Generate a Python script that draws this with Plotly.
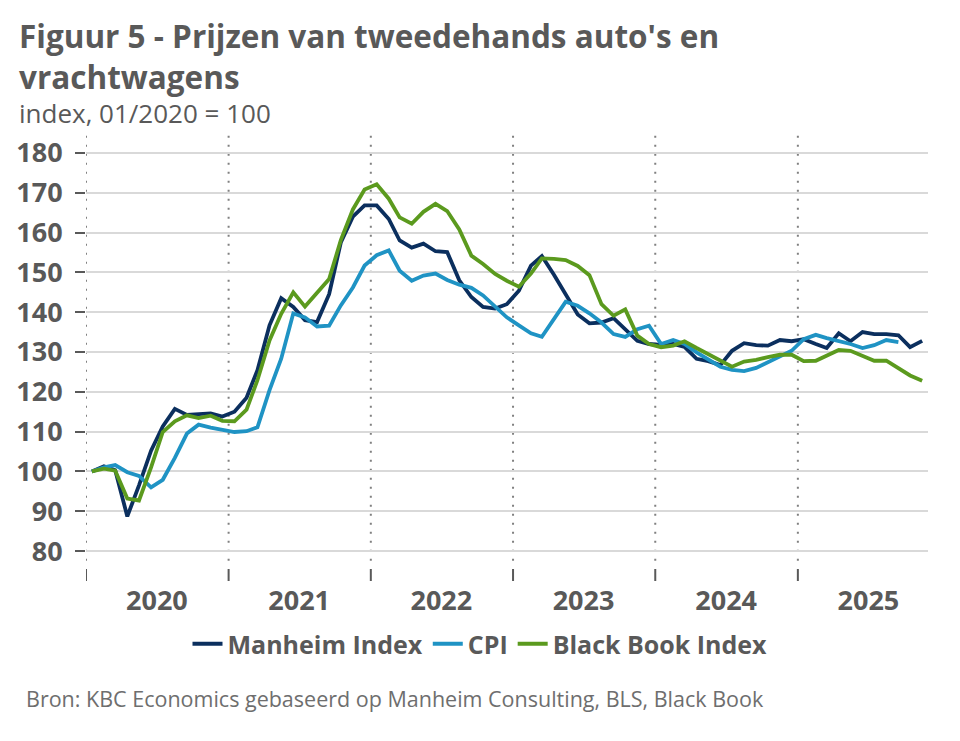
import pandas as pd
import plotly.graph_objects as go

# ---- data (index, 01/2020 = 100), monthly from 2020-01 ----
months = [d.strftime("%Y-%m") for d in pd.date_range("2020-01-01", periods=71, freq="MS")]

manheim = [100, 101.3, 100.3, 88.7, 96.5, 105.2, 111.3, 115.7, 114.2, 114.4, 114.6, 113.8,
           115, 118.5, 125.4, 136.7, 143.5, 141.3, 138, 137.5, 144.5, 157.5, 164, 166.8,
           166.8, 163.4, 158, 156.2, 157.2, 155.3, 155.1, 148, 143.8, 141.3, 140.9, 142,
           145.4, 151.7, 154.1, 149.4, 144.6, 139.4, 137.2, 137.4, 138.5, 135.8, 132.8, 132,
           131.8, 132, 131.3, 128.3, 127.7, 126.7, 130.3, 132.2, 131.7, 131.6, 133, 132.7,
           133.2, 132, 131, 134.7, 132.7, 135, 134.5, 134.5, 134.2, 131.2, 132.8]

cpi = [100, 101, 101.6, 99.8, 98.9, 96, 97.9, 103.4, 109.5, 111.75, 111, 110.4,
       109.9, 110.1, 111.1, 120.4, 128.3, 139.7, 138.7, 136.4, 136.6, 141.7, 146.2, 151.7,
       154.3, 155.5, 150.4, 147.9, 149.2, 149.7, 148.1, 146.9, 146.1, 144.2, 141.3, 138.7,
       136.7, 134.7, 133.8, 138.4, 142.6, 141.6, 139.7, 137.4, 134.5, 133.8, 135.7, 136.6,
       132, 133, 132, 129.9, 128.2, 126.3, 125.5, 125.2, 126, 127.4, 129.1, 130.3,
       133.2, 134.3, 133.5, 132.8, 132, 131, 131.7, 133, 132.5]

black_book = [100, 100.7, 100.2, 93.2, 92.7, 101, 109.9, 112.6, 114.1, 113.4, 114, 112.7,
              112.6, 115.5, 122.9, 132.9, 139.6, 145, 141.4, 145, 148.3, 158.1, 165.8, 170.8,
              172.1, 168.5, 163.8, 162.2, 165.2, 167.2, 165.4, 160.8, 154.2, 152.1, 149.6, 147.9,
              146.4, 149.7, 153.5, 153.4, 153.1, 151.6, 149.3, 142, 139.1, 140.7, 134.1, 132,
              131.2, 131.6, 132.7, 131, 129.5, 127.9, 126.3, 127.6, 128, 128.7, 129.3, 129.3,
              127.7, 127.8, 129.2, 130.5, 130.3, 129.1, 127.8, 127.8, 126, 124.1, 122.8]

years = ["2020", "2021", "2022", "2023", "2024", "2025"]
y_ticks = [80, 90, 100, 110, 120, 130, 140, 150, 160, 170, 180]

series = [("Manheim Index", manheim, "#0b2f5e"),
          ("CPI", cpi, "#1f93c4"),
          ("Black Book Index", black_book, "#5b9a1e")]

GREY = "#595959"
FONT = "Open Sans"

# plot area in figure pixels
L, R, T, B = 78, 40, 125, 186
PW, PH = 960 - L - R, 741 - T - B


def px_x(x):
    return (x - L) / PW


def px_y(y):
    return (741 - B - y) / PH


# mid-month positions
x_mid = [pd.Timestamp(m + "-01") + pd.Timedelta(days=15) for m in months]

fig = go.Figure()
for name, vals, col in series:
    fig.add_trace(go.Scatter(x=x_mid[:len(vals)], y=vals, mode="lines", name=name,
                             line=dict(color=col, width=3.8)))

# year boundaries: dotted lines and small tick marks below the plot
for yr in years:
    xb = f"{yr}-01-01"
    fig.add_shape(type="line", xref="x", yref="paper", x0=xb, x1=xb, y0=0.005, y1=1,
                  line=dict(color="#808080", width=2, dash="2px,7px"), layer="below")
    fig.add_shape(type="line", xref="x", yref="paper", x0=xb, x1=xb,
                  y0=px_y(561), y1=px_y(573),
                  line=dict(color=GREY, width=2))

fig.update_layout(
    width=960, height=741,
    paper_bgcolor="white", plot_bgcolor="white",
    margin=dict(l=L, r=R, t=T, b=B),
    font=dict(family=FONT, color=GREY),
    showlegend=True,
    legend=dict(orientation="h", xref="paper", x=px_x(472), xanchor="center",
                yref="paper", y=px_y(636), yanchor="middle",
                font=dict(family=FONT, size=25, color=GREY, weight="bold"),
                itemwidth=30, tracegroupgap=0),
    annotations=[
        dict(text="<b>Figuur 5 - Prijzen van tweedehands auto's en<br>vrachtwagens</b>",
             xref="paper", yref="paper", align="left",
             x=px_x(9), y=px_y(48), xanchor="left", yanchor="middle",
             showarrow=False, font=dict(family=FONT, size=31.5, color=GREY)),
        dict(text="index, 01/2020 = 100", xref="paper", yref="paper",
             x=px_x(9), y=px_y(105), xanchor="left", yanchor="middle",
             showarrow=False, font=dict(family=FONT, size=26, color=GREY)),
        dict(text="Bron: KBC Economics gebaseerd op Manheim Consulting, BLS, Black Book",
             xref="paper", yref="paper", x=px_x(16), y=px_y(690),
             xanchor="left", yanchor="middle", showarrow=False,
             font=dict(family=FONT, size=21.5, color="#6e6e6e")),
    ],
)

fig.update_xaxes(type="date", range=["2020-01-01", "2025-12-01"], automargin=False,
                 tickvals=[f"{y}-07-01" for y in years], ticktext=years,
                 ticks="", showgrid=False, zeroline=False, showline=False,
                 tickfont=dict(family=FONT, size=27, color=GREY, weight="bold"),
                 ticklabelstandoff=19)
fig.update_yaxes(range=[77, 185], tickvals=y_ticks, automargin=False,
                 ticks="outside", ticklen=10, tickwidth=1.5, tickcolor=GREY,
                 showgrid=True, gridcolor="#d9d9d9", gridwidth=1.5,
                 zeroline=False, showline=False,
                 tickfont=dict(family=FONT, size=27, color=GREY, weight="bold"),
                 ticklabelstandoff=7)

fig.write_html("out.html")
